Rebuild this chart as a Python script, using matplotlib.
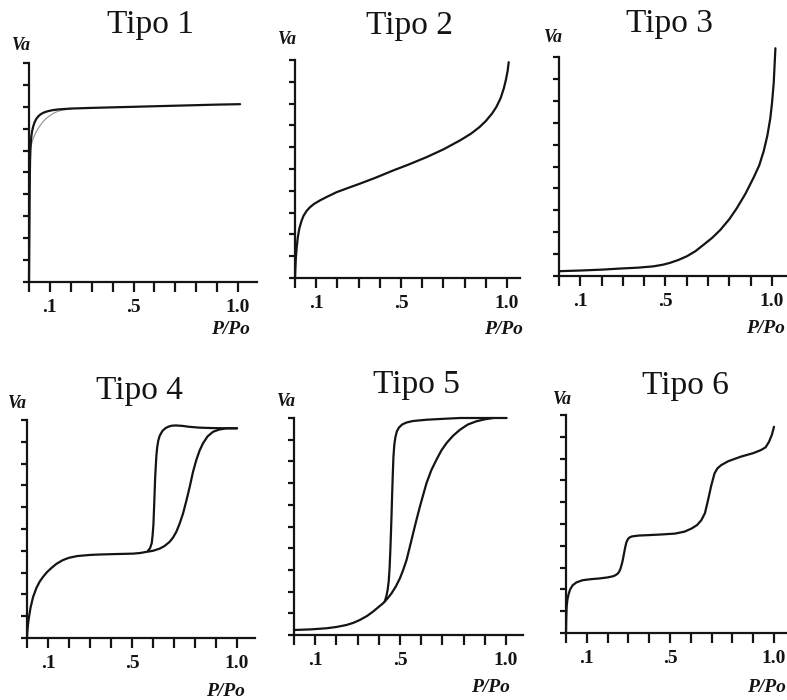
import matplotlib
matplotlib.use('Agg')
import matplotlib.pyplot as plt

plt.rcParams['font.family'] = ['Liberation Serif', 'DejaVu Serif']

W, H = 787, 700

# Tipo 1 (with the thin grey variant near the knee)
t1_x = [0, 0.001, 0.002, 0.003, 0.004, 0.005, 0.007, 0.01, 0.014, 0.02, 0.027, 0.035, 0.045,
        0.056, 0.067, 0.08, 0.095, 0.115, 0.14, 0.17, 0.2, 0.3, 0.5, 0.7, 0.9, 1.01]
t1_y = [0, 1.3, 2.6, 3.8, 4.8, 5.5, 6.1, 6.55, 6.85, 7.1, 7.3, 7.45, 7.57,
        7.66, 7.72, 7.77, 7.81, 7.85, 7.88, 7.9, 7.92, 7.95, 8.0, 8.05, 8.1, 8.12]
t1b_x = [0.006, 0.012, 0.02, 0.03, 0.04, 0.05, 0.065, 0.08, 0.1, 0.12, 0.14, 0.16, 0.18, 0.2]
t1b_y = [6.0, 6.3, 6.55, 6.78, 6.95, 7.1, 7.3, 7.45, 7.6, 7.72, 7.8, 7.85, 7.88, 7.9]

# Tipo 2
t2_x = [0, 0.002, 0.004, 0.008, 0.013, 0.02, 0.03, 0.04, 0.055, 0.071, 0.09, 0.118, 0.15, 0.197,
        0.25, 0.307, 0.38, 0.465, 0.54, 0.622, 0.7, 0.78, 0.83, 0.87, 0.9, 0.93, 0.95, 0.97,
        0.985, 0.995, 1.003, 1.008]
t2_y = [0, 0.5, 0.9, 1.4, 1.85, 2.25, 2.6, 2.85, 3.08, 3.25, 3.4, 3.56, 3.72, 3.94,
        4.13, 4.33, 4.6, 4.94, 5.22, 5.55, 5.9, 6.32, 6.62, 6.92, 7.2, 7.55, 7.85, 8.25,
        8.7, 9.1, 9.5, 9.9]

# Tipo 3
t3_x = [0, 0.1, 0.2, 0.286, 0.37, 0.443, 0.49, 0.521, 0.56, 0.6, 0.64, 0.678, 0.72, 0.757,
        0.8, 0.835, 0.875, 0.914, 0.94, 0.961, 0.978, 0.992, 1.0, 1.008, 1.012, 1.016]
t3_y = [0.22, 0.25, 0.29, 0.34, 0.38, 0.44, 0.52, 0.6, 0.73, 0.9, 1.13, 1.42, 1.75, 2.1,
        2.6, 3.1, 3.75, 4.5, 5.05, 5.7, 6.4, 7.2, 7.9, 8.8, 9.6, 10.4]

# Tipo 4: adsorption + desorption branch
t4a_x = [0, 0.002, 0.005, 0.0095, 0.017, 0.029, 0.045, 0.06, 0.076, 0.095, 0.115, 0.14, 0.17,
         0.2, 0.24, 0.3, 0.346, 0.42, 0.505, 0.54, 0.568, 0.6, 0.632, 0.655, 0.679, 0.695,
         0.711, 0.727, 0.743, 0.759, 0.775, 0.79, 0.806, 0.822, 0.838, 0.86, 0.886, 0.915,
         0.949, 0.975, 1.0]
t4a_y = [0, 0.35, 0.65, 0.96, 1.4, 1.88, 2.3, 2.58, 2.8, 3.02, 3.2, 3.4, 3.57,
         3.68, 3.76, 3.81, 3.83, 3.85, 3.87, 3.9, 3.95, 4.0, 4.1, 4.22, 4.41, 4.6,
         4.87, 5.25, 5.71, 6.3, 6.94, 7.6, 8.16, 8.6, 8.93, 9.25, 9.46, 9.56,
         9.62, 9.62, 9.62]
t4d_x = [0.576, 0.586, 0.594, 0.598, 0.602, 0.604, 0.606, 0.608, 0.61, 0.613, 0.616, 0.62,
         0.625, 0.632, 0.645, 0.66, 0.675, 0.69, 0.71, 0.74, 0.77, 0.82, 0.88, 0.95, 1.0]
t4d_y = [4.0, 4.12, 4.35, 4.7, 5.2, 5.7, 6.2, 6.75, 7.3, 7.85, 8.35, 8.75,
         9.05, 9.28, 9.5, 9.63, 9.7, 9.74, 9.75, 9.73, 9.69, 9.65, 9.63, 9.62, 9.62]

# Tipo 5: adsorption + desorption branch
t5a_x = [0, 0.08, 0.153, 0.2, 0.247, 0.28, 0.31, 0.345, 0.373, 0.4, 0.42, 0.44, 0.46, 0.48,
         0.5, 0.515, 0.531, 0.546, 0.562, 0.578, 0.594, 0.61, 0.625, 0.648, 0.672, 0.695,
         0.72, 0.75, 0.783, 0.82, 0.861, 0.9, 0.94, 1.003]
t5a_y = [0.23, 0.26, 0.31, 0.37, 0.46, 0.56, 0.69, 0.88, 1.08, 1.3, 1.46, 1.67, 1.92, 2.23,
         2.62, 3.0, 3.46, 4.05, 4.69, 5.32, 5.92, 6.48, 7.0, 7.6, 8.08, 8.5,
         8.85, 9.18, 9.46, 9.7, 9.85, 9.94, 10.0, 10.0]
t5d_x = [0.428, 0.436, 0.442, 0.447, 0.451, 0.454, 0.457, 0.46, 0.463, 0.466, 0.469, 0.473,
         0.478, 0.485, 0.495, 0.51, 0.53, 0.56, 0.625, 0.7, 0.783, 0.87, 0.94]
t5d_y = [1.54, 1.8, 2.1, 2.5, 3.1, 3.8, 4.6, 5.5, 6.5, 7.4, 8.2, 8.75,
         9.1, 9.38, 9.56, 9.7, 9.79, 9.86, 9.92, 9.96, 10.0, 10.0, 10.0]

# Tipo 6
t6_x = [0, 0.001, 0.003, 0.007, 0.013, 0.02, 0.032, 0.05, 0.079, 0.12, 0.159, 0.2, 0.225,
        0.238, 0.248, 0.255, 0.262, 0.268, 0.273, 0.278, 0.284, 0.29, 0.297, 0.305, 0.317,
        0.35, 0.397, 0.46, 0.524, 0.57, 0.603, 0.63, 0.651, 0.668, 0.683, 0.698, 0.714,
        0.728, 0.746, 0.78, 0.841, 0.9, 0.937, 0.96, 0.976, 0.99, 1.0]
t6_y = [0, 0.6, 1.19, 1.55, 1.8, 2.0, 2.19, 2.32, 2.42, 2.47, 2.5, 2.55, 2.6,
        2.65, 2.72, 2.8, 2.95, 3.15, 3.35, 3.6, 3.9, 4.15, 4.3, 4.38, 4.43,
        4.47, 4.49, 4.52, 4.56, 4.65, 4.79, 4.95, 5.18, 5.5, 6.1, 6.75, 7.32,
        7.55, 7.7, 7.88, 8.09, 8.25, 8.39, 8.52, 8.77, 9.1, 9.46]

titles = ['Tipo 1', 'Tipo 2', 'Tipo 3', 'Tipo 4', 'Tipo 5', 'Tipo 6']
xticks = [i / 10 for i in range(11)]
xtick_labels = ['', '.1', '', '', '', '.5', '', '', '', '', '1.0']
yticks = list(range(11))

curves = [
    [(t1_x, t1_y)],
    [(t2_x, t2_y)],
    [(t3_x, t3_y)],
    [(t4a_x, t4a_y), (t4d_x, t4d_y)],
    [(t5a_x, t5a_y), (t5d_x, t5d_y)],
    [(t6_x, t6_y)],
]

# pixel geometry: y-axis x, x=1.0 position, x-axis end, x-axis y, top of y-axis
boxes = [
    (29, 238, 257, 282, 63),
    (295, 507, 520, 278, 60),
    (559, 772, 790, 276, 57),
    (27, 237, 255, 638, 420),
    (294, 506, 523, 635, 418),
    (566, 774, 800, 633, 415),
]
title_pos = [(150, 25), (410, 26), (669, 24), (139, 391), (416, 385), (685, 386)]
va_pos = [(21, 45), (287, 40), (553, 38), (17, 403), (286, 401), (562, 400)]
ppo_pos = [(230, 330), (503, 330), (765, 328), (225, 691), (490, 688), (766, 688)]

INK = '#141414'
YTOP = 10.6

fig = plt.figure(figsize=(W / 100, H / 100), dpi=100)


def px(x, y):
    return x / W, 1 - y / H


for i in range(6):
    x0, x1, xe, y0, yt = boxes[i]
    unit = x1 - x0
    hpx = (y0 - yt) * YTOP / 10
    ax = fig.add_axes([x0 / W, 1 - y0 / H, (xe - x0) / W, hpx / H])
    ax.set_xlim(0, (xe - x0) / unit)
    ax.set_ylim(0, YTOP)
    for s in ['top', 'right']:
        ax.spines[s].set_visible(False)
    ax.spines['left'].set_bounds(0, 10)
    for s in ['left', 'bottom']:
        ax.spines[s].set_linewidth(1.6)
        ax.spines[s].set_color(INK)
    ax.set_xticks(xticks)
    ax.set_xticklabels(xtick_labels, fontsize=14, fontweight='bold', color=INK)
    ax.set_yticks(yticks)
    ax.set_yticklabels([])
    ax.tick_params(axis='x', direction='out', length=7, width=1.6, color=INK, pad=5)
    ax.tick_params(axis='y', direction='out', length=4.5, width=1.6, color=INK)
    ax.patch.set_alpha(0)

    if i == 0:
        ax.plot(t1b_x, t1b_y, color='#9a9a9a', lw=0.9, clip_on=False)
    for cx, cy in curves[i]:
        ax.plot(cx, cy, color=INK, lw=1.6, clip_on=False,
                solid_joinstyle='round', solid_capstyle='round')

    tx, ty = title_pos[i]
    fig.text(*px(tx, ty), titles[i], fontsize=24, ha='center', va='center', color=INK)
    vx, vy = va_pos[i]
    fig.text(*px(vx, vy), 'Va', fontsize=13, style='italic', fontweight='bold',
             ha='center', va='center', color=INK)
    qx, qy = ppo_pos[i]
    fig.text(*px(qx, qy), 'P/Po', fontsize=14, style='italic', fontweight='bold',
             ha='center', va='center', color=INK)

fig.savefig('out.png', dpi=100, facecolor='white')
